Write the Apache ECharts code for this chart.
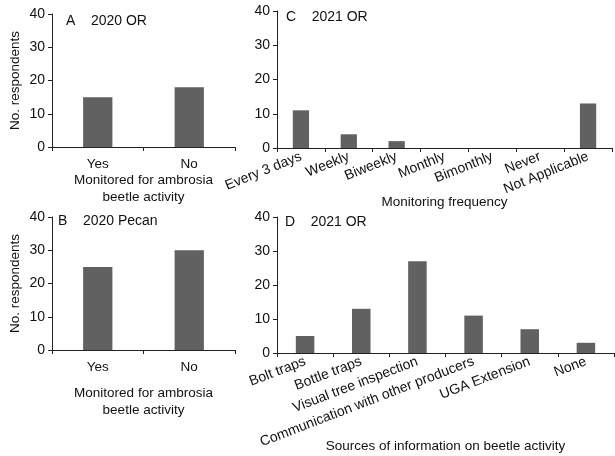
<!DOCTYPE html>
<html>
<head>
<meta charset="utf-8">
<script src="https://cdn.jsdelivr.net/npm/echarts@6/dist/echarts.min.js"></script>
<style>
  html, body { margin: 0; padding: 0; background: #fff; }
  #chart { width: 615px; height: 456px; }
</style>
</head>
<body>
<div id="chart"></div>
<script>
// data
var catsA = ["Yes", "No"];
var valsA = [15, 18];
var catsB = ["Yes", "No"];
var valsB = [25, 30];
var catsC = ["Every 3 days", "Weekly", "Biweekly", "Monthly", "Bimonthly", "Never", "Not Applicable"];
var valsC = [11, 4, 2, 0, 0, 0, 13];
var catsD = ["Bolt traps", "Bottle traps", "Visual tree inspection", "Communication with other producers", "UGA Extension", "None"];
var valsD = [5, 13, 27, 11, 7, 3];

var font = "Liberation Sans, Arial, sans-serif";
var axisColor = "#222";
var barColor = "#616161";

var chart = echarts.init(document.getElementById("chart"));

function xAx(idx, cats, name, gap, rotate) {
  return {
    type: "category",
    gridIndex: idx,
    data: cats,
    name: name,
    nameLocation: "middle",
    nameGap: gap,
    nameMoveOverlap: false,
    nameTextStyle: { fontFamily: font, fontSize: 13.5, color: "#111", lineHeight: 17 },
    axisLine: { lineStyle: { color: axisColor, width: 1 } },
    axisTick: { show: true, length: 4, alignWithLabel: false, lineStyle: { color: axisColor } },
    axisLabel: {
      interval: 0,
      rotate: rotate || 0,
      margin: rotate ? 8 : 10,
      fontFamily: font,
      fontSize: rotate ? 14 : 13.5,
      color: "#111"
    }
  };
}

function yAx(idx, showName) {
  return {
    type: "value",
    gridIndex: idx,
    min: 0,
    max: 40,
    interval: 10,
    name: showName ? "No. respondents" : "",
    nameLocation: "middle",
    nameGap: 30,
    nameMoveOverlap: false,
    nameTextStyle: { fontFamily: font, fontSize: 13.5, color: "#111" },
    splitLine: { show: false },
    axisLine: { show: true, lineStyle: { color: axisColor, width: 1 } },
    axisTick: { show: true, length: 4, inside: false, lineStyle: { color: axisColor } },
    axisLabel: { fontFamily: font, fontSize: 14, color: "#111", margin: 7 }
  };
}

function bars(idx, vals, w) {
  return {
    type: "bar",
    xAxisIndex: idx,
    yAxisIndex: idx,
    data: vals,
    barWidth: w,
    itemStyle: { color: barColor },
    silent: true
  };
}

function panelTitle(text, left, top) {
  return {
    text: text,
    left: left,
    top: top,
    padding: 0,
    textStyle: { fontFamily: font, fontSize: 14, fontWeight: "normal", color: "#111" }
  };
}

var option = {
  animation: false,
  backgroundColor: "#fff",
  title: [
    panelTitle("A    2020 OR", 66, 14),
    panelTitle("B    2020 Pecan", 58, 214),
    panelTitle("C    2021 OR", 286, 10),
    panelTitle("D    2021 OR", 285, 215)
  ],
  grid: [
    { left: 52, top: 14, width: 183, height: 133 },
    { left: 52, top: 217, width: 183, height: 133 },
    { left: 277, top: 11, width: 335, height: 137 },
    { left: 277, top: 217, width: 337, height: 137 }
  ],
  xAxis: [
    xAx(0, catsA, "Monitored for ambrosia\nbeetle activity", 25),
    xAx(1, catsB, "Monitored for ambrosia\nbeetle activity", 35),
    xAx(2, catsC, "Monitoring frequency", 46, 22),
    xAx(3, catsD, "Sources of information on beetle activity", 85, 21)
  ],
  yAxis: [yAx(0, true), yAx(1, true), yAx(2, false), yAx(3, false)],
  series: [
    bars(0, valsA, "32%"),
    bars(1, valsB, "32%"),
    bars(2, valsC, "34%"),
    bars(3, valsD, "33%")
  ]
};

chart.setOption(option);
</script>
</body>
</html>
